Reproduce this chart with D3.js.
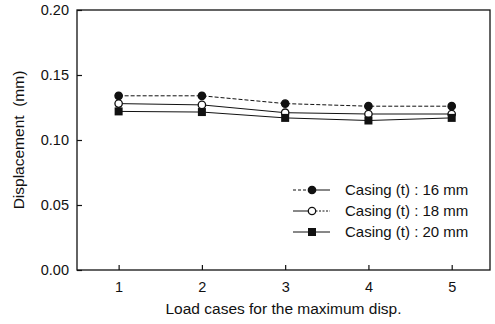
<!DOCTYPE html>
<html>
<head>
<meta charset="utf-8">
<script src="https://cdn.jsdelivr.net/npm/d3@7"></script>
<style>
  body { margin: 0; background: #fff; }
  svg { display: block; }
  text { font-family: "Liberation Sans", Arial, sans-serif; fill: #111; }
</style>
</head>
<body>
<div class="chart"></div>
<script>
// data
const loadCases = [1, 2, 3, 4, 5];
const casing16 = [0.134, 0.134, 0.128, 0.126, 0.126];
const casing18 = [0.128, 0.127, 0.121, 0.120, 0.120];
const casing20 = [0.122, 0.1215, 0.117, 0.115, 0.117];
const seriesNames = ['Casing (t) : 16 mm', 'Casing (t) : 18 mm', 'Casing (t) : 20 mm'];
const yTicks = [0, 0.05, 0.10, 0.15, 0.20];

const WIDTH = 495, HEIGHT = 324;
const MARGINS = {top: 10, right: 5, bottom: 54, left: 77};

const svg = d3.select('.chart').append('svg')
  .attr('width', WIDTH)
  .attr('height', HEIGHT);

const xRange = d3.scaleLinear()
  .domain([0.5, 5.46])
  .range([MARGINS.left, WIDTH - MARGINS.right]);
const yRange = d3.scaleLinear()
  .domain([0, 0.2])
  .range([HEIGHT - MARGINS.bottom, MARGINS.top]);

// frame
svg.append('rect')
  .attr('x', MARGINS.left)
  .attr('y', MARGINS.top)
  .attr('width', WIDTH - MARGINS.right - MARGINS.left)
  .attr('height', HEIGHT - MARGINS.bottom - MARGINS.top)
  .attr('fill', 'none')
  .attr('stroke', '#111')
  .attr('stroke-width', 1.3);

/**
 * axes, ticks pointing inside
 */
const xAxis = d3.axisBottom(xRange)
  .tickValues(loadCases)
  .tickFormat(d3.format('d'))
  .tickSizeInner(-5)
  .tickSizeOuter(0)
  .tickPadding(12);
const xAxisg = svg.append('g')
  .attr('transform', 'translate(0,' + (HEIGHT - MARGINS.bottom) + ')')
  .call(xAxis);

const yAxis = d3.axisLeft(yRange)
  .tickValues(yTicks)
  .tickFormat(d3.format('.2f'))
  .tickSizeInner(-5)
  .tickSizeOuter(0)
  .tickPadding(8);
const yAxisg = svg.append('g')
  .attr('transform', 'translate(' + MARGINS.left + ',0)')
  .call(yAxis);

[xAxisg, yAxisg].forEach(g => {
  g.select('.domain').remove();
  g.selectAll('line').attr('stroke', '#111').attr('stroke-width', 1.2);
  g.selectAll('text')
    .style('font-family', '"Liberation Sans", Arial, sans-serif')
    .style('font-size', '14.5px')
    .attr('fill', '#111');
});

// axis titles
svg.append('text')
  .attr('x', (MARGINS.left + WIDTH - MARGINS.right) / 2)
  .attr('y', 314)
  .attr('text-anchor', 'middle')
  .style('font-size', '15.5px')
  .text('Load cases for the maximum disp.');
svg.append('text')
  .attr('transform', 'translate(24,' + yRange(0.1) + ') rotate(-90)')
  .attr('text-anchor', 'middle')
  .style('font-size', '15.5px')
  .style('white-space', 'pre')
  .text('Displacement  (mm)');

/**
 * series
 */
const series = [
  {name: seriesNames[0], values: casing16, dash: '4,2', marker: 'circle', fill: '#111'},
  {name: seriesNames[1], values: casing18, dash: null, marker: 'circle', fill: '#fff'},
  {name: seriesNames[2], values: casing20, dash: null, marker: 'square', fill: '#111'},
];

const lineFunction = d3.line()
  .x(d => xRange(d.x))
  .y(d => yRange(d.y))
  .curve(d3.curveLinear);

function drawMarker(g, s, cx, cy) {
  if (s.marker === 'circle') {
    g.append('circle')
      .attr('cx', cx).attr('cy', cy).attr('r', 3.7)
      .attr('fill', s.fill)
      .attr('stroke', '#111')
      .attr('stroke-width', 1.3);
  } else {
    g.append('rect')
      .attr('x', cx - 4).attr('y', cy - 4)
      .attr('width', 8).attr('height', 8)
      .attr('fill', s.fill);
  }
}

series.forEach(s => {
  const pts = loadCases.map((c, i) => ({x: c, y: s.values[i]}));
  svg.append('path')
    .attr('d', lineFunction(pts))
    .attr('fill', 'none')
    .attr('stroke', '#111')
    .attr('stroke-width', 1)
    .attr('stroke-dasharray', s.dash);
  const g = svg.append('g');
  pts.forEach(p => drawMarker(g, s, xRange(p.x), yRange(p.y)));
});

// legend
const legend = svg.append('g').attr('transform', 'translate(293,190)');
series.forEach((s, i) => {
  const y = i * 21;
  legend.append('line')
    .attr('x1', 0).attr('x2', 19).attr('y1', y).attr('y2', y)
    .attr('stroke', '#111').attr('stroke-width', 1)
    .attr('stroke-dasharray', i === 0 ? '3,2' : null);
  legend.append('line')
    .attr('x1', 19).attr('x2', 37).attr('y1', y).attr('y2', y)
    .attr('stroke', '#111').attr('stroke-width', 1)
    .attr('stroke-dasharray', i === 1 ? '2,1.5' : null);
  drawMarker(legend, s, 19, y);
  legend.append('text')
    .attr('x', 52).attr('y', y + 5)
    .style('font-size', '15px')
    .text(s.name);
});
</script>
</body>
</html>
